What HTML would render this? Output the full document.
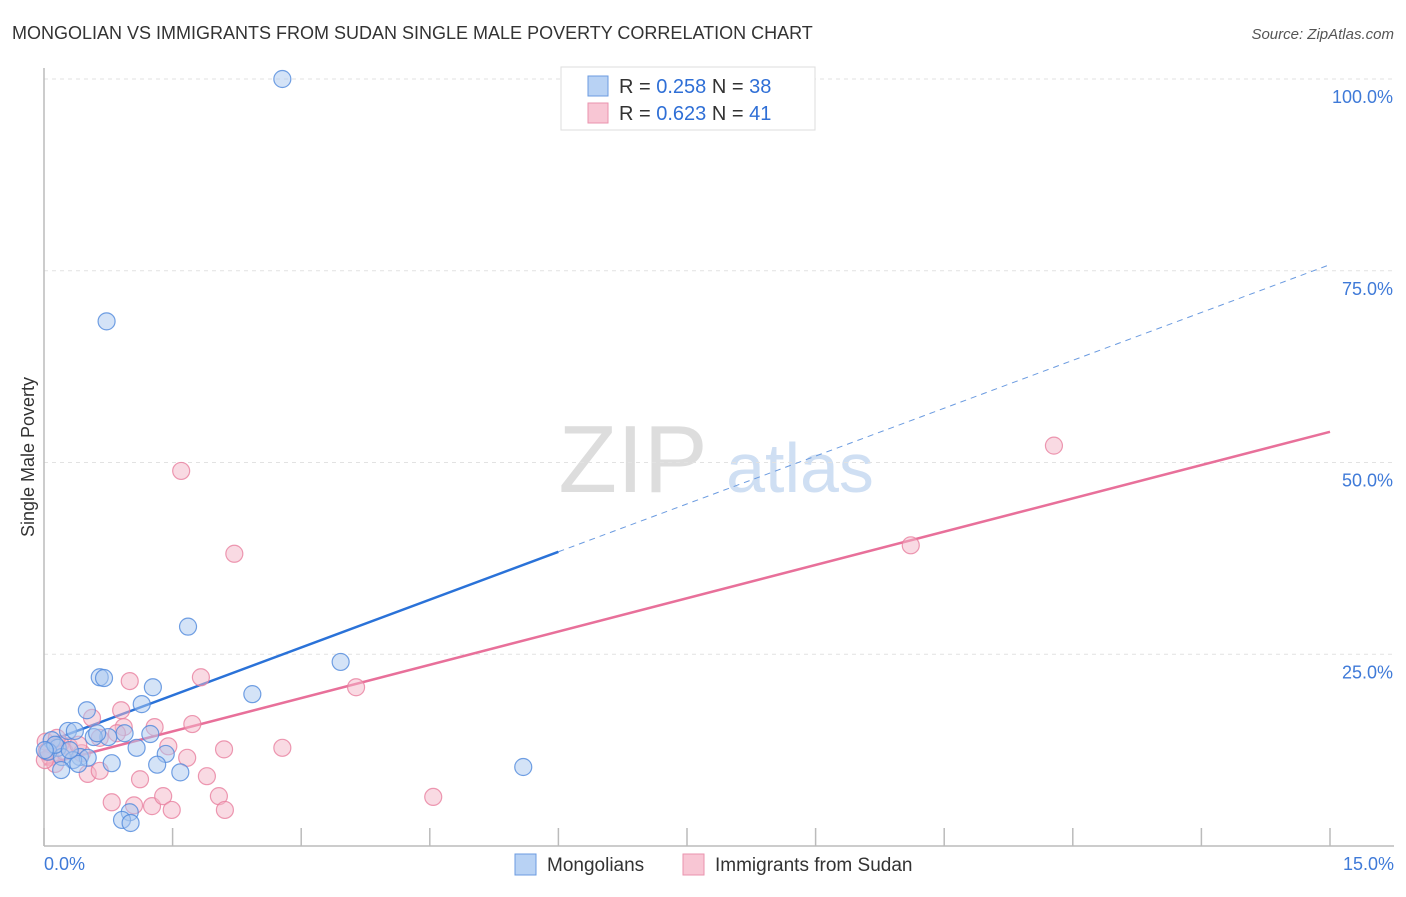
<!DOCTYPE html>
<html><head><meta charset="utf-8"><style>
body{margin:0;background:#fff;font-family:"Liberation Sans",sans-serif}
svg text{font-family:"Liberation Sans",sans-serif}
</style></head><body>
<svg width="1406" height="892" xmlns="http://www.w3.org/2000/svg" id="chart">
<text x="12" y="39" font-size="18" fill="#333">MONGOLIAN VS IMMIGRANTS FROM SUDAN SINGLE MALE POVERTY CORRELATION CHART</text>
<text x="1394" y="39" font-size="15" fill="#555" font-style="italic" text-anchor="end">Source: ZipAtlas.com</text>
<text x="0" y="0" transform="translate(34,457) rotate(-90)" font-size="18" fill="#333" text-anchor="middle">Single Male Poverty</text>
<text x="633" y="492" font-size="96" fill="#ddd" font-family="Liberation Serif" text-anchor="middle">ZIP</text>
<text x="800" y="492" font-size="70" fill="#cfdff3" text-anchor="middle">atlas</text>
<g id="grid"></g><g id="axes"></g><g id="lines"></g><g id="pts"></g>
<g>
<rect x="561" y="67" width="254" height="63" fill="#fff" stroke="#ddd"/>
<rect x="588" y="76" width="20" height="20" fill="#b8d2f4" stroke="#6b9be0"/>
<rect x="588" y="103" width="20" height="20" fill="#f8c6d4" stroke="#ea93ae"/>
<text x="619" y="93" font-size="20" fill="#333">R = <tspan fill="#2f6fd6">0.258</tspan>   N = <tspan fill="#2f6fd6">38</tspan></text>
<text x="619" y="120" font-size="20" fill="#333">R = <tspan fill="#2f6fd6">0.623</tspan>   N = <tspan fill="#2f6fd6">41</tspan></text>
</g>
<g>
<rect x="515" y="854" width="21" height="21" fill="#b8d2f4" stroke="#6b9be0"/>
<text x="547" y="871" font-size="19" fill="#333">Mongolians</text>
<rect x="683" y="854" width="21" height="21" fill="#f8c6d4" stroke="#ea93ae"/>
<text x="715" y="871" font-size="19" fill="#333">Immigrants from Sudan</text>
</g>
</svg>
<script>
const blueX=[2.78,0.73,1.68,3.46,0.65,0.70,1.27,2.43,1.14,0.50,0.28,0.36,0.94,1.24,0.75,0.58,1.08,1.42,0.09,0.16,0.05,0.21,0.42,0.51,0.34,0.79,1.32,5.59,1.59,0.20,0.40,1.00,0.91,1.01,0.62,0.13,0.01,0.30];
const blueY=[100,68.4,28.6,24.0,22.0,21.9,20.7,19.8,18.5,17.7,15.0,15.0,14.7,14.6,14.2,14.2,12.8,12.0,13.8,12.8,12.3,11.6,11.6,11.5,11.2,10.8,10.6,10.3,9.6,9.9,10.7,4.4,3.4,3.0,14.7,13.2,12.5,12.5];
const pinkX=[1.60,2.22,11.78,10.11,1.83,1.00,3.64,0.90,0.56,1.73,1.29,0.93,0.85,0.65,1.45,2.10,2.78,1.67,0.29,0.44,0.19,0.07,0.13,0.51,0.65,1.12,1.90,4.54,0.79,1.05,1.26,1.39,2.04,2.11,1.49,0.02,0.24,0.40,0.01,0.15,0.03];
const pinkY=[48.9,38.1,52.2,39.2,22.0,21.5,20.7,17.7,16.7,15.9,15.5,15.5,14.7,14.1,13.0,12.6,12.8,11.5,13.0,12.1,13.3,11.6,10.7,9.4,9.8,8.7,9.1,6.4,5.7,5.3,5.2,6.5,6.5,4.7,4.7,13.6,12.3,13.2,11.2,14.1,12.3];
const blueTrend=[13.4,75.8];
const pinkTrend=[10.6,54.0];
const yTicks=[25,50,75,100];
const yTickLabels=["25.0%","50.0%","75.0%","100.0%"];
const xTicks=[0,1.5,3,4.5,6,7.5,9,10.5,12,13.5,15];
const xEndLabels=["0.0%","15.0%"];
const NS="http://www.w3.org/2000/svg";
const X=v=>44+v*(1286/15), Y=v=>846-v*7.67;
function mk(tag,attrs,parent){const e=document.createElementNS(NS,tag);for(const k in attrs)e.setAttribute(k,attrs[k]);document.getElementById(parent).appendChild(e);return e;}
yTicks.forEach((t,i)=>{
 const l=mk('line',{x1:44,x2:1394,y1:Y(t),y2:Y(t),stroke:'#e2e2e2','stroke-dasharray':'4,4'},'grid');
 
 
 const tx=mk('text',{x:1393,y:Y(t)+24,'font-size':18,fill:'#3f7ad8','text-anchor':'end'},'grid');
 tx.textContent=yTickLabels[i];
 
 
});
const ax=mk('line',{x1:44,x2:44,y1:68,y2:846,stroke:'#bbb','stroke-width':1.5},'axes');


const bx=mk('line',{x1:44,x2:1394,y1:846,y2:846,stroke:'#bbb','stroke-width':1.5},'axes');


xTicks.forEach(t=>{
 const l=mk('line',{x1:X(t),x2:X(t),y1:828,y2:846,stroke:'#bbb','stroke-width':1.5},'axes');
 
 
});
const xl0=mk('text',{x:44,y:870,'font-size':18,fill:'#3f7ad8'},'axes');xl0.textContent=xEndLabels[0];


const xl1=mk('text',{x:1394,y:870,'font-size':18,fill:'#3f7ad8','text-anchor':'end'},'axes');xl1.textContent=xEndLabels[1];


function pts(xs,ys,fill,stroke,name){xs.forEach((x,i)=>{
 const c=mk('circle',{cx:X(x),cy:Y(ys[i]),r:8.5,fill:fill,'fill-opacity':0.5,stroke:stroke,'stroke-opacity':0.8,'stroke-width':1.2},'pts');
 
 
});}
pts(pinkX,pinkY,'#f4b6c8','#e8809f','point-sudan');
pts(blueX,blueY,'#a9c8f0','#4f88dc','point-mongolian');
const bAt=x=>blueTrend[0]+(blueTrend[1]-blueTrend[0])*x/15;
const b1=mk('line',{x1:X(0),y1:Y(bAt(0)),x2:X(6),y2:Y(bAt(6)),stroke:'#2a72d8','stroke-width':2.5},'lines');


const b2=mk('line',{x1:X(6),y1:Y(bAt(6)),x2:X(15),y2:Y(bAt(15)),stroke:'#6b9be0','stroke-width':1,'stroke-dasharray':'6,5'},'lines');


const p1=mk('line',{x1:X(0),y1:Y(pinkTrend[0]),x2:X(15),y2:Y(pinkTrend[1]),stroke:'#e8709a','stroke-width':2.5},'lines');


</script>
</body></html>
